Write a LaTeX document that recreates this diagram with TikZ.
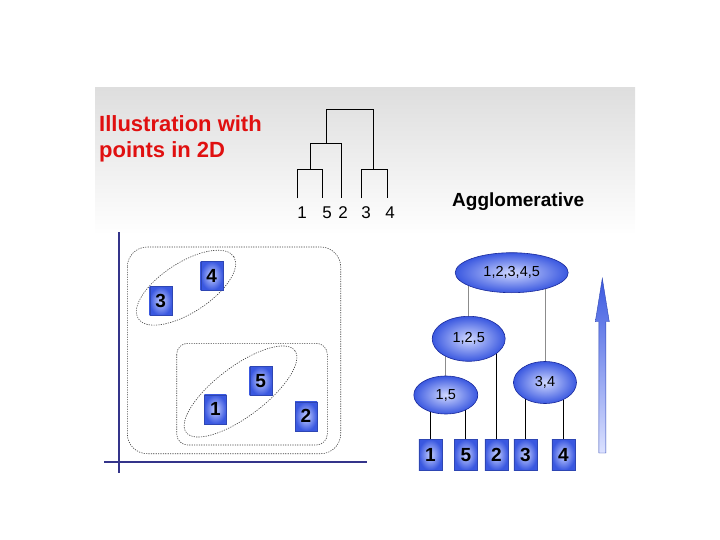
\documentclass[tikz,border=0pt]{standalone}
\usepackage{fontspec}
\setmainfont{Liberation Sans}
\usetikzlibrary{shapes.geometric,backgrounds}
\definecolor{axisblue}{HTML}{34348A}
\definecolor{boxedge}{HTML}{3A58E0}
\definecolor{boxmid}{HTML}{C4CEFF}
\definecolor{ellborder}{HTML}{1A2A9A}
\definecolor{titlered}{HTML}{E01010}
\tikzset{
  pt/.style={rectangle, minimum width=22pt, minimum height=29pt, inner sep=0pt,
    inner color=boxmid, outer color=boxedge, draw=boxedge!80!black, line width=0.4pt,
    font=\bfseries\fontsize{19}{19}\selectfont},
  leafbox/.style={pt, minimum width=23pt, minimum height=31pt},
  clus/.style={ellipse, inner sep=0pt, inner color=boxmid!80!white, outer color=boxedge,
    draw=ellborder, line width=0.6pt, font=\fontsize{14.5}{14.5}\selectfont},
  dotl/.style={draw=black!75, line width=0.6pt, dash pattern=on 1.2pt off 1.2pt},
  glink/.style={draw=black!45, line width=1pt},
  blink/.style={draw=black, line width=1pt},
  dend/.style={draw=black, line width=0.8pt},
  dlab/.style={font=\fontsize{17}{17}\selectfont, inner sep=0pt}
}
\begin{document}
\begin{tikzpicture}[x=1pt,y=-1pt]
\useasboundingbox (0,0) rectangle (720,540);
% title texts
\node[anchor=west, text=titlered, font=\bfseries\fontsize{22}{25.5}\selectfont, align=left, inner sep=0pt]
  (title) at (99,139) {Illustration with\\points in 2D};
\node[anchor=west, font=\bfseries\fontsize{19}{19}\selectfont, inner sep=0pt] (aggl) at (452,202) {Agglomerative};
% dendrogram
\draw[dend] (297.3,198.3) |- (322.7,169.3) -- (322.7,198.3);
\draw[dend] (361.7,198.3) |- (387,169.3) -- (387,198.3);
\draw[dend] (310.7,169.3) |- (341,143.7) -- (341,198.3);
\draw[dend] (326,143.7) |- (373.7,109.3) -- (373.7,169.3);
\node[dlab] (d1) at (302,213) {1};
\node[dlab] (d5) at (327,213) {5};
\node[dlab] (d2) at (343,213) {2};
\node[dlab] (d3) at (366,213) {3};
\node[dlab] (d4) at (390,213) {4};
% left panel axes
\draw[axisblue, line width=1.8pt] (119,232) -- (119,473);
\draw[axisblue, line width=1.8pt] (104,462.3) -- (366.7,462.3);
% dotted clusters
\draw[dotl, rounded corners=20pt] (127.3,247) rectangle (340.7,453.7);
\draw[dotl, rounded corners=11pt] (176.7,343.3) rectangle (327.3,445);
\draw[dotl, rotate around={33:(186,287.7)}] (186,287.7) ellipse (57 and 25);
\draw[dotl, rotate around={37:(240.5,391.5)}] (240.5,391.5) ellipse (68 and 25);
% points
\node[pt] (p4) at (211.7,275.7) {4};
\node[pt] (p3) at (160.7,301) {3};
\node[pt] (p5) at (260.7,380.7) {5};
\node[pt] (p1) at (215.3,409.2) {1};
\node[pt] (p2) at (306,416.3) {2};
% right panel hierarchy
\node[clus, minimum width=113pt, minimum height=40pt] (e12345) at (511.7,272.7) {1,2,3,4,5};
\node[clus, minimum width=73pt, minimum height=45pt] (e125) at (468.7,338.8) {1,2,5};
\node[clus, minimum width=64pt, minimum height=38pt] (e15) at (445.8,395) {1,5};
\node[clus, minimum width=63pt, minimum height=42pt] (e34) at (545,382.5) {3,4};
\node[leafbox] (b1) at (430.3,454.7) {1};
\node[leafbox] (b5) at (465.8,454.7) {5};
\node[leafbox] (b2) at (496.3,454.7) {2};
\node[leafbox] (b3) at (525.3,454.7) {3};
\node[leafbox] (b4) at (563.3,454.7) {4};
% arrow
\shade[top color=boxedge, bottom color=boxmid!60!white, draw=boxedge!80!black, line width=0.4pt]
  (598.8,453) -- (598.8,321.7) -- (595.3,321.7) -- (602.3,278.3) -- (609.3,321.7)
  -- (605.8,321.7) -- (605.8,453) -- cycle;
\begin{scope}[on background layer]
  \shade[top color=black!13, bottom color=white] (95,88) rectangle (635,235);
  \draw[glink] (e125.center) -- (e125 |- e12345.center);
  \draw[glink] (e34.center) -- (e34 |- e12345.center);
  \draw[glink] (e15.center) -- (e15 |- e125.center);
  \draw[blink] (b2.center) -- (b2 |- e125.center);
  \draw[blink] (b1.center) -- (b1 |- e15.center);
  \draw[blink] (b5.center) -- (b5 |- e15.center);
  \draw[blink] (b3.center) -- (b3 |- e34.center);
  \draw[blink] (b4.center) -- (b4 |- e34.center);
\end{scope}
\end{tikzpicture}
\end{document}
